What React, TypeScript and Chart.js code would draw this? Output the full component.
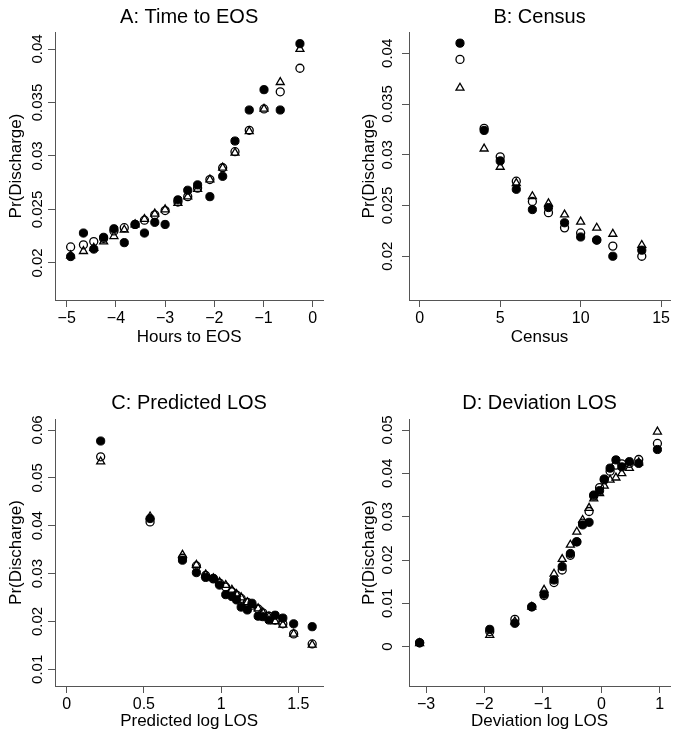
import React, { useEffect, useRef } from 'react';
import { Chart, registerables } from 'chart.js';

Chart.register(...registerables);

const FONT = "'Liberation Sans', Arial, Helvetica, sans-serif";

// ---------- Panel A: Time to EOS ----------
const aHours = [-4.92, -4.66, -4.45, -4.25, -4.04, -3.83, -3.61, -3.42, -3.21, -3.0, -2.74, -2.54, -2.34, -2.09, -1.83, -1.58, -1.29, -0.99, -0.66, -0.26];
const aFilled = [0.0206, 0.0228, 0.0213, 0.0224, 0.0232, 0.0219, 0.0236, 0.0228, 0.0238, 0.0236, 0.0259, 0.0268, 0.0273, 0.0262, 0.0281, 0.0314, 0.0343, 0.0362, 0.0343, 0.0405];
const aOpen = [0.0215, 0.0217, 0.0220, 0.0223, 0.0230, 0.0233, 0.0236, 0.0240, 0.0245, 0.0249, 0.0257, 0.0262, 0.0270, 0.0278, 0.0289, 0.0304, 0.0324, 0.0344, 0.0360, 0.0382];
const aTri = [0.0207, 0.0211, 0.0214, 0.0220, 0.0225, 0.0231, 0.0236, 0.0241, 0.0246, 0.0250, 0.0256, 0.0262, 0.0269, 0.0278, 0.0289, 0.0303, 0.0323, 0.0344, 0.0369, 0.0400];
const aXTicks = [-5, -4, -3, -2, -1, 0];
const aXTickLabels = ['\u22125', '\u22124', '\u22123', '\u22122', '\u22121', '0'];
const aYTicks = [0.02, 0.025, 0.03, 0.035, 0.04];
const aYTickLabels = ['0.02', '0.025', '0.03', '0.035', '0.04'];

// ---------- Panel B: Census ----------
const bCensus = [2.5, 4, 5, 6, 7, 8, 9, 10, 11, 12, 13.8];
const bFilled = [0.0410, 0.0324, 0.0294, 0.0266, 0.0246, 0.0248, 0.0233, 0.0219, 0.0216, 0.0200, 0.0206];
const bOpen = [0.0394, 0.0326, 0.0298, 0.0274, 0.0254, 0.0243, 0.0228, 0.0223, 0.0216, 0.0210, 0.0200];
const bTri = [0.0366, 0.0306, 0.0288, 0.0272, 0.0259, 0.0252, 0.0241, 0.0234, 0.0228, 0.0222, 0.0211];
const bXTicks = [0, 5, 10, 15];
const bXTickLabels = ['0', '5', '10', '15'];
const bYTicks = [0.02, 0.025, 0.03, 0.035, 0.04];
const bYTickLabels = ['0.02', '0.025', '0.03', '0.035', '0.04'];

// ---------- Panel C: Predicted LOS ----------
const cPredLog = [0.22, 0.54, 0.75, 0.84, 0.90, 0.95, 0.99, 1.03, 1.07, 1.10, 1.13, 1.17, 1.20, 1.24, 1.27, 1.31, 1.35, 1.40, 1.47, 1.59];
const cFilled = [0.0577, 0.0415, 0.0328, 0.0302, 0.0292, 0.0290, 0.0276, 0.0256, 0.0252, 0.0245, 0.0230, 0.0224, 0.0238, 0.0211, 0.0210, 0.0203, 0.0213, 0.0207, 0.0195, 0.0189];
const cOpen = [0.0544, 0.0408, 0.0332, 0.0316, 0.0296, 0.0289, 0.0280, 0.0272, 0.0262, 0.0255, 0.0248, 0.0240, 0.0234, 0.0226, 0.0218, 0.0211, 0.0203, 0.0195, 0.0174, 0.0153];
const cTri = [0.0534, 0.0419, 0.0339, 0.0318, 0.0298, 0.0290, 0.0282, 0.0276, 0.0266, 0.0257, 0.0250, 0.0240, 0.0234, 0.0227, 0.0219, 0.0210, 0.0200, 0.0193, 0.0174, 0.0151];
const cXTicks = [0, 0.5, 1, 1.5];
const cXTickLabels = ['0', '0.5', '1', '1.5'];
const cYTicks = [0.01, 0.02, 0.03, 0.04, 0.05, 0.06];
const cYTickLabels = ['0.01', '0.02', '0.03', '0.04', '0.05', '0.06'];

// ---------- Panel D: Deviation LOS ----------
const dDevLog = [-3.11, -1.91, -1.48, -1.19, -0.98, -0.81, -0.67, -0.53, -0.42, -0.32, -0.21, -0.13, -0.03, 0.05, 0.15, 0.25, 0.35, 0.48, 0.64, 0.96];
const dFilled = [0.0009, 0.0040, 0.0054, 0.0092, 0.0121, 0.0154, 0.0185, 0.0215, 0.0242, 0.0281, 0.0287, 0.0350, 0.0360, 0.0387, 0.0412, 0.0431, 0.0415, 0.0427, 0.0423, 0.0455];
const dOpen = [0.0009, 0.0035, 0.0063, 0.0092, 0.0118, 0.0148, 0.0177, 0.0211, 0.0242, 0.0285, 0.0312, 0.0348, 0.0367, 0.0385, 0.0405, 0.0419, 0.0422, 0.0423, 0.0432, 0.0469];
const dTri = [0.0008, 0.0027, 0.0058, 0.0092, 0.0131, 0.0168, 0.0202, 0.0235, 0.0265, 0.0292, 0.0320, 0.0342, 0.0354, 0.0371, 0.0385, 0.0390, 0.0400, 0.0412, 0.0425, 0.0496];
const dXTicks = [-3, -2, -1, 0, 1];
const dXTickLabels = ['\u22123', '\u22122', '\u22121', '0', '1'];
const dYTicks = [0, 0.01, 0.02, 0.03, 0.04, 0.05];
const dYTickLabels = ['0', '0.01', '0.02', '0.03', '0.04', '0.05'];

const AXIS_COLOR = '#555';

const rotatedYTicks = {
  id: 'rotatedYTicks',
  afterDraw(chart: any, _args: any, opts: any) {
    const scale = chart.scales.y;
    const ctx = chart.ctx;
    ctx.save();
    ctx.font = `${opts.size}px ${FONT}`;
    ctx.fillStyle = '#000';
    ctx.textAlign = 'center';
    ctx.textBaseline = 'alphabetic';
    scale.ticks.forEach((t: any, i: number) => {
      const y = scale.getPixelForValue(t.value);
      ctx.save();
      ctx.translate(chart.chartArea.left - opts.gap, y);
      ctx.rotate(-Math.PI / 2);
      ctx.fillText(opts.labels[i], 0, 0);
      ctx.restore();
    });
    ctx.restore();
  },
};

type PanelDef = {
  left: number; top: number; width: number; height: number;
  title: string; xTitle: string;
  xs: number[]; filled: number[]; open: number[]; tri: number[];
  xMin: number; xMax: number; yMin: number; yMax: number;
  xTicks: number[]; xTickLabels: string[]; yTicks: number[]; yTickLabels: string[];
  yAxisWidth: number; xAxisHeight: number; padRight: number;
  titlePadTop: number; titlePadBottom: number;
  xTitlePadBottom: number; yTitlePadTop: number; yTickGap: number;
};

const panels: PanelDef[] = [
  {
    left: 0, top: 0, width: 338, height: 368,
    title: 'A: Time to EOS', xTitle: 'Hours to EOS',
    xs: aHours, filled: aFilled, open: aOpen, tri: aTri,
    xMin: -5.238, xMax: 0.215, yMin: 0.01654, yMax: 0.04159,
    xTicks: aXTicks, xTickLabels: aXTickLabels, yTicks: aYTicks, yTickLabels: aYTickLabels,
    yAxisWidth: 55, xAxisHeight: 68, padRight: 14.7,
    titlePadTop: 5, titlePadBottom: 3, xTitlePadBottom: 20.8, yTitlePadTop: 5.8, yTickGap: 13,
  },
  {
    left: 338, top: 0, width: 338, height: 368,
    title: 'B: Census', xTitle: 'Census',
    xs: bCensus, filled: bFilled, open: bOpen, tri: bTri,
    xMin: -0.669, xMax: 15.56, yMin: 0.01569, yMax: 0.0421,
    xTicks: bXTicks, xTickLabels: bXTickLabels, yTicks: bYTicks, yTickLabels: bYTickLabels,
    yAxisWidth: 71, xAxisHeight: 68, padRight: 0,
    titlePadTop: 5, titlePadBottom: 3, xTitlePadBottom: 20.8, yTitlePadTop: 20.8, yTickGap: 17,
  },
  {
    left: 0, top: 368, width: 338, height: 369,
    title: 'C: Predicted LOS', xTitle: 'Predicted log LOS',
    xs: cPredLog, filled: cFilled, open: cOpen, tri: cTri,
    xMin: -0.0758, xMax: 1.662, yMin: 0.00651, yMax: 0.0623,
    xTicks: cXTicks, xTickLabels: cXTickLabels, yTicks: cYTicks, yTickLabels: cYTickLabels,
    yAxisWidth: 55, xAxisHeight: 51, padRight: 14.7,
    titlePadTop: 23.3, titlePadBottom: 3.7, xTitlePadBottom: 5.1, yTitlePadTop: 5.8, yTickGap: 13,
  },
  {
    left: 338, top: 368, width: 338, height: 369,
    title: 'D: Deviation LOS', xTitle: 'Deviation log LOS',
    xs: dDevLog, filled: dFilled, open: dOpen, tri: dTri,
    xMin: -3.292, xMax: 1.177, yMin: -0.00907, yMax: 0.05254,
    xTicks: dXTicks, xTickLabels: dXTickLabels, yTicks: dYTicks, yTickLabels: dYTickLabels,
    yAxisWidth: 71, xAxisHeight: 51, padRight: 0,
    titlePadTop: 23.3, titlePadBottom: 3.7, xTitlePadBottom: 5.1, yTitlePadTop: 20.8, yTickGap: 17,
  },
];

function pts(xs: number[], ys: number[]) {
  return xs.map((x, i) => ({ x, y: ys[i] }));
}

function Panel({ p }: { p: PanelDef }) {
  const ref = useRef<HTMLCanvasElement>(null);
  useEffect(() => {
    if (!ref.current) return;
    const chart = new Chart(ref.current, {
      type: 'scatter',
      data: {
        datasets: [
          {
            label: 'filled', data: pts(p.xs, p.filled), pointStyle: 'circle',
            pointRadius: 4.1, backgroundColor: '#000', borderColor: '#000', borderWidth: 1,
          },
          {
            label: 'open', data: pts(p.xs, p.open), pointStyle: 'circle',
            pointRadius: 4.0, backgroundColor: 'rgba(0,0,0,0)', borderColor: '#000', borderWidth: 1.3,
          },
          {
            label: 'triangle', data: pts(p.xs, p.tri), pointStyle: 'triangle',
            pointRadius: 4.6, backgroundColor: 'rgba(0,0,0,0)', borderColor: '#000', borderWidth: 1.3,
          },
        ],
      },
      options: {
        responsive: false,
        maintainAspectRatio: false,
        animation: false,
        events: [],
        layout: { padding: { left: 0, top: 0, right: p.padRight, bottom: 0 } },
        plugins: {
          legend: { display: false },
          tooltip: { enabled: false },
          title: {
            display: true, text: p.title, fullSize: false, color: '#000',
            font: { family: FONT, size: 20, weight: 'normal', lineHeight: 1.2 },
            padding: { top: p.titlePadTop, bottom: p.titlePadBottom },
          },
          rotatedYTicks: { gap: p.yTickGap, labels: p.yTickLabels, size: 15 },
        } as any,
        scales: {
          x: {
            type: 'linear', min: p.xMin, max: p.xMax,
            afterBuildTicks: (s: any) => { s.ticks = p.xTicks.map((v) => ({ value: v })); },
            afterFit: (s: any) => { s.height = p.xAxisHeight; },
            ticks: {
              color: '#000', padding: 2, maxRotation: 0, autoSkip: false,
              font: { family: FONT, size: 16 },
              callback: (_v: any, i: number) => p.xTickLabels[i],
            },
            grid: { display: true, drawOnChartArea: false, drawTicks: true, tickLength: 7, color: AXIS_COLOR, tickColor: AXIS_COLOR, lineWidth: 1 },
            border: { display: true, color: AXIS_COLOR, width: 1 },
            title: {
              display: true, text: p.xTitle, color: '#000',
              font: { family: FONT, size: 17, lineHeight: 1.2 },
              padding: { top: 0, bottom: p.xTitlePadBottom },
            },
          },
          y: {
            type: 'linear', min: p.yMin, max: p.yMax,
            afterBuildTicks: (s: any) => { s.ticks = p.yTicks.map((v) => ({ value: v })); },
            afterFit: (s: any) => { s.width = p.yAxisWidth; },
            ticks: { display: false },
            grid: { display: true, drawOnChartArea: false, drawTicks: true, tickLength: 7, color: AXIS_COLOR, tickColor: AXIS_COLOR, lineWidth: 1 },
            border: { display: true, color: AXIS_COLOR, width: 1 },
            title: {
              display: true, text: 'Pr(Discharge)', color: '#000',
              font: { family: FONT, size: 17, lineHeight: 1.2 },
              padding: { top: p.yTitlePadTop, bottom: 0 },
            },
          },
        },
      } as any,
      plugins: [rotatedYTicks],
    });
    return () => chart.destroy();
  }, [p]);
  return (
    <canvas
      ref={ref}
      width={p.width}
      height={p.height}
      style={{ position: 'absolute', left: p.left, top: p.top, width: p.width, height: p.height }}
    />
  );
}

export default function App() {
  return (
    <div style={{ position: 'absolute', left: 0, top: 0, width: 676, height: 737, background: '#fff', overflow: 'hidden' }}>
      {panels.map((p) => (
        <Panel key={p.title} p={p} />
      ))}
    </div>
  );
}
